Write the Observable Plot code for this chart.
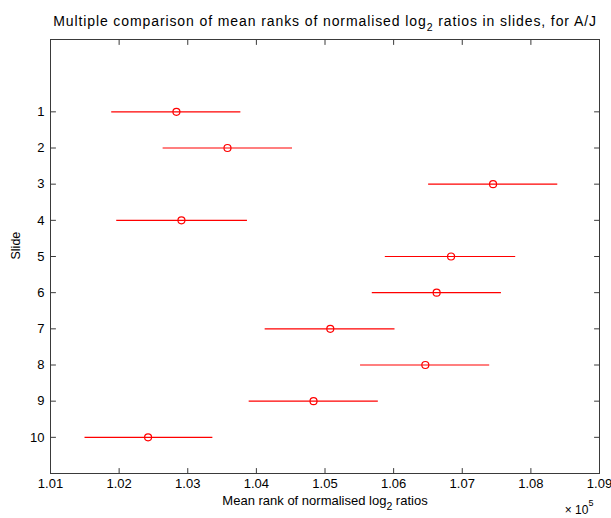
<!DOCTYPE html>
<html><head><meta charset="utf-8">
<script src="https://cdn.jsdelivr.net/npm/d3@7"></script>
<script src="https://cdn.jsdelivr.net/npm/@observablehq/plot@0.6"></script>
<style>body{margin:0;background:#fff}</style>
</head><body><div id="chart"></div>
<script>
const slides = [1, 2, 3, 4, 5, 6, 7, 8, 9, 10];
const means = [102835, 103579, 107449, 102908, 106837, 106627, 105077, 106462, 104833, 102422];
const lower = [101892, 102641, 106510, 101965, 105879, 105689, 104128, 105518, 103895, 101503];
const upper = [103774, 104527, 108392, 103870, 107779, 107571, 106020, 107400, 105777, 103366];
const xTicks = [101000, 102000, 103000, 104000, 105000, 106000, 107000, 108000, 109000];
const xTickLabels = ["1.01", "1.02", "1.03", "1.04", "1.05", "1.06", "1.07", "1.08", "1.09"];
const title = "Multiple comparison of mean ranks of normalised log_{2} ratios in slides, for A/J";
const xLabel = "Mean rank of normalised log_{2} ratios";
const yLabel = "Slide";
const xExponent = "× 10^{5}";

const data = slides.map((s, i) => ({slide: s, mean: means[i], lo: lower[i], hi: upper[i]}));
const tickShape = {draw(ctx, l) { ctx.moveTo(0, 0); ctx.lineTo(0, -l); }};
const axisColor = "#3a3a3a";
const font = "'Liberation Sans', Arial, Helvetica, sans-serif";

const chart = Plot.plot({
  width: 611, height: 518,
  marginLeft: 50, marginRight: 12, marginTop: 39, marginBottom: 45,
  style: {fontFamily: font, fontSize: "13px", background: "#fff", color: "#000", overflow: "visible"},
  x: {domain: [101000, 109000]},
  y: {domain: [11, -1]},
  marks: [
    Plot.frame({stroke: axisColor}),
    Plot.vector(xTicks, {x: d => d, frameAnchor: "bottom", length: 5, rotate: 0, anchor: "start", shape: tickShape, stroke: axisColor, strokeWidth: 1}),
    Plot.vector(xTicks, {x: d => d, frameAnchor: "top", length: 5, rotate: 180, anchor: "start", shape: tickShape, stroke: axisColor, strokeWidth: 1}),
    Plot.vector(slides, {y: d => d, frameAnchor: "left", length: 5, rotate: 90, anchor: "start", shape: tickShape, stroke: axisColor, strokeWidth: 1}),
    Plot.vector(slides, {y: d => d, frameAnchor: "right", length: 5, rotate: -90, anchor: "start", shape: tickShape, stroke: axisColor, strokeWidth: 1}),
    Plot.axisX(xTicks, {anchor: "bottom", tickSize: 0, tickPadding: 5, label: null, fontSize: 13,
      tickFormat: d => xTickLabels[xTicks.indexOf(d)]}),
    Plot.axisY(slides, {anchor: "left", tickSize: 0, tickPadding: 6, label: null, fontSize: 13}),
    Plot.ruleY(data, {y: "slide", x1: "lo", x2: "hi", stroke: "#ff0000", strokeWidth: 1.2}),
    Plot.dot(data, {x: "mean", y: "slide", r: 3.5, stroke: "#ff0000", fill: "none", strokeWidth: 1.2}),
    Plot.text([title], {text: d => d, frameAnchor: "top", dx: 0, dy: -23, fontSize: 14}),
    Plot.text([xLabel], {text: d => d, frameAnchor: "bottom", dy: 31, fontSize: 13}),
    Plot.text([yLabel], {text: d => d, frameAnchor: "left", rotate: -90, dx: -35, dy: 3, fontSize: 12.5}),
    Plot.text([xExponent], {text: d => d, frameAnchor: "bottom-right", textAnchor: "end", dx: -6, dy: 40, fontSize: 12})
  ]
});

// turn _{..} and ^{..} markers into real sub/superscript tspans
chart.querySelectorAll("text").forEach(t => {
  const s = t.textContent;
  if (s.startsWith("Multiple")) t.setAttribute("letter-spacing", "0.9px");
  if (!/[_^]\{/.test(s)) return;
  t.textContent = "";
  const re = /([_^])\{([^}]*)\}/g;
  let last = 0, m, shift = 0;
  const ns = "http://www.w3.org/2000/svg";
  while ((m = re.exec(s))) {
    if (m.index > last) {
      const a = document.createElementNS(ns, "tspan");
      a.textContent = s.slice(last, m.index);
      if (shift) a.setAttribute("dy", -shift);
      shift = 0;
      t.appendChild(a);
    }
    const b = document.createElementNS(ns, "tspan");
    b.textContent = m[2];
    const d = m[1] === "_" ? 5 : -8;
    b.setAttribute("dy", d);
    b.setAttribute("font-size", m[1] === "_" ? 10.5 : 9);
    t.appendChild(b);
    shift = d;
    last = re.lastIndex;
  }
  if (last < s.length) {
    const c = document.createElementNS(ns, "tspan");
    c.textContent = s.slice(last);
    if (shift) c.setAttribute("dy", -shift);
    t.appendChild(c);
  }
});

document.getElementById("chart").appendChild(chart);
</script>
</body></html>
